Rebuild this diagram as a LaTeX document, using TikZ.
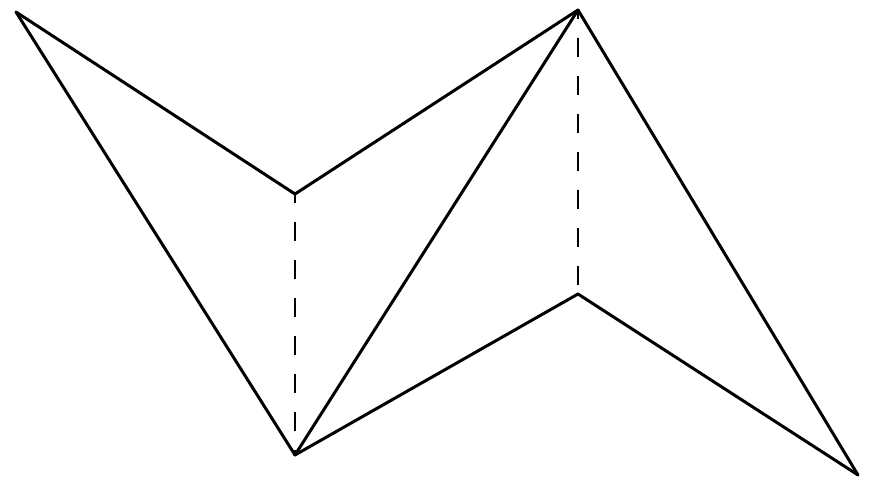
\documentclass[tikz,border=0pt]{standalone}
\usepackage{tikz}
\tikzset{
  edge-solid/.style={line width=1.7pt, line join=round, line cap=round},
  edge-hidden/.style={line width=1.7pt, dash pattern=on 0.38cm off 0.38cm, dash phase=0.2cm}
}
\begin{document}
\begin{tikzpicture}[x=0.02cm, y=-0.02cm]
\useasboundingbox (0,0) rectangle (873,487);
% Vertices
\coordinate (topleft) at (16,12);
\coordinate (midleft) at (295,194);
\coordinate (topright) at (578,10);
\coordinate (midright) at (578,294);
\coordinate (bottom) at (295,455);
\coordinate (farright) at (858,475);

% Visible edges
\draw[edge-solid] (topleft) -- (midleft) -- (topright);
\draw[edge-solid] (topleft) -- (bottom);
\draw[edge-solid] (bottom) -- (topright);
\draw[edge-solid] (bottom) -- (midright) -- (farright);
\draw[edge-solid] (topright) -- (farright);

% Hidden edges
\draw[edge-hidden] (midleft) -- (bottom);
\draw[edge-hidden] (topright) -- (midright);
\end{tikzpicture}
\end{document}
